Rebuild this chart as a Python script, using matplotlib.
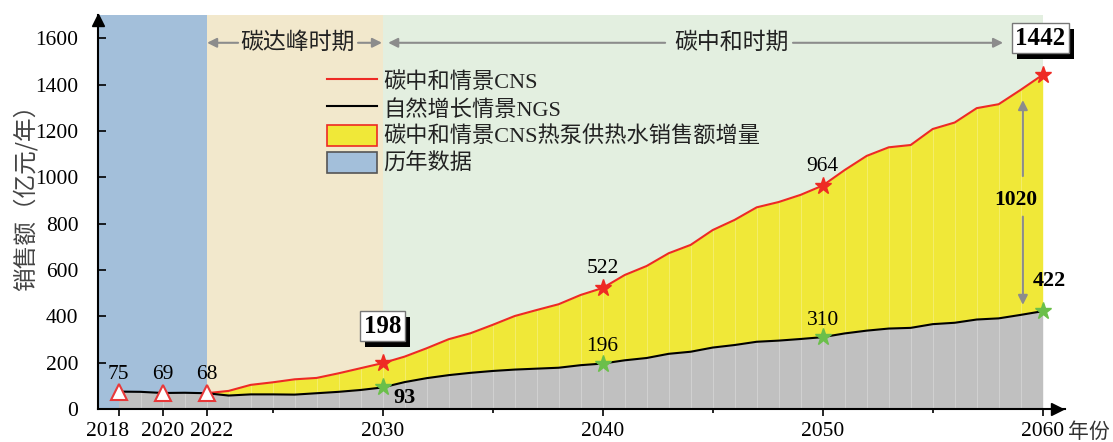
import numpy as np
import matplotlib
matplotlib.use("Agg")
import matplotlib.pyplot as plt
from matplotlib.lines import Line2D
from matplotlib.patches import Patch
from matplotlib.transforms import ScaledTranslation
from matplotlib import patheffects

plt.rcParams['font.family'] = ['Liberation Serif', 'Noto Sans CJK SC']
plt.rcParams['axes.unicode_minus'] = False

# historical data (2018-2022)
hist_years = [2018, 2019, 2020, 2021, 2022]
hist_vals = [75, 74, 69, 70, 68]

# forecast (2022-2060)
fc_years = list(range(2022, 2061))
cns = [68, 78, 104, 115, 128, 134, 154, 176, 198,
       226, 262, 301, 327, 363, 401, 427, 452, 492, 522,
       578, 617, 672, 708, 772, 816, 870, 893, 924, 964,
       1031, 1092, 1129, 1139, 1208, 1236, 1298, 1315, 1377, 1442]
ngs = [68, 58, 63, 63, 62, 68, 74, 82, 93,
       116, 133, 146, 156, 164, 170, 174, 178, 189, 196,
       210, 220, 238, 247, 265, 276, 290, 295, 302, 310,
       326, 338, 347, 350, 366, 372, 386, 391, 406, 422]

key_years = [2030, 2040, 2050, 2060]
hist_marks = [2018, 2020, 2022]

legend_labels = ['碳中和情景CNS', '自然增长情景NGS',
                 '碳中和情景CNS热泵供热水销售额增量', '历年数据']

# colours
c_blue = '#A3BFDA'
c_beige = '#F2E8CC'
c_green = '#E3EFE0'
c_yellow = '#F0E838'
c_gray = '#C0C0C0'
c_red = '#EE2A24'
c_star_green = '#6BBF4A'
c_arrow = '#8C8C8C'

fig = plt.figure(figsize=(11.13, 4.42), dpi=100)
ax = fig.add_axes([0.0878, 0.0747, 0.8688, 0.8914])
ax.set_xlim(2017.05, 2061.0)
ax.set_ylim(0, 1700)

# period backgrounds
ax.axvspan(2017.05, 2022, color=c_blue, zorder=0, lw=0)
ax.axvspan(2022, 2030, color=c_beige, zorder=0, lw=0)
ax.axvspan(2030, 2060, color=c_green, zorder=0, lw=0)

all_years = np.array(hist_years + fc_years[1:])
ngs_all = np.array(hist_vals + ngs[1:])
top_all = np.array(hist_vals + cns[1:])

ax.fill_between(all_years, 0, ngs_all, color=c_gray, lw=0, zorder=1)
ax.fill_between(fc_years, ngs, cns, color=c_yellow, lw=0, zorder=1)
ax.vlines(all_years[1:-1], 0, top_all[1:-1], colors='white', lw=0.6, alpha=0.3, zorder=1.5)

ax.plot(fc_years, cns, color=c_red, lw=1.5, zorder=3)
ax.plot(all_years, ngs_all, color='black', lw=1.5, zorder=3)

# markers
idx = [fc_years.index(y) for y in key_years]
ax.plot(key_years, [cns[i] for i in idx], '*', color=c_red, ms=12.5, mec=c_red, zorder=4)
ax.plot(key_years, [ngs[i] for i in idx], '*', color=c_star_green, ms=12.5, mec=c_star_green, zorder=4)
hv = [hist_vals[hist_years.index(y)] for y in hist_marks]
ax.plot(hist_marks, hv, '^', ms=12, mfc='white', mec='#E8393A', mew=1.5, zorder=4, clip_on=False)

# value labels
for y, v in zip(hist_marks, hv):
    ax.text(y, 150, str(v), ha='center', va='center', fontsize=15.5, zorder=5)
for y, v in [(2040, cns[idx[1]]), (2050, cns[idx[2]])]:
    ax.text(y, v + 82, str(v), ha='center', va='center', fontsize=15.5, zorder=5)
for y, v in [(2040, ngs[idx[1]]), (2050, ngs[idx[2]])]:
    ax.text(y, v + 72, str(v), ha='center', va='center', fontsize=15.5, zorder=5)
ax.text(2031.0, 47, str(ngs[idx[0]]), ha='center', va='center', fontsize=16, fontweight='bold', zorder=5)
ax.text(2060.3, 553, str(ngs[idx[3]]), ha='center', va='center', fontsize=16, fontweight='bold', zorder=5)


def shadow_box(x, y, s):
    t = ax.text(x, y, s, ha='center', va='center', fontsize=18, fontweight='bold', zorder=7,
                bbox=dict(boxstyle='square,pad=0.14', fc='white', ec='#777777', lw=1))
    t.get_bbox_patch().set_path_effects([
        patheffects.SimplePatchShadow(offset=(3.6, -4.3), shadow_rgbFace='black', alpha=1.0),
        patheffects.Normal()])


shadow_box(2029.99, 357, str(cns[idx[0]]))
shadow_box(2059.9, 1600, str(cns[idx[3]]))

# difference arrow 2060
diff = cns[idx[3]] - ngs[idx[3]]
arr = dict(arrowstyle='-|>', color=c_arrow, lw=1.5, mutation_scale=14, shrinkA=0, shrinkB=0)
ax.annotate('', xy=(2059.1, 1333), xytext=(2059.1, 1005), arrowprops=arr, zorder=5)
ax.annotate('', xy=(2059.1, 449), xytext=(2059.1, 830), arrowprops=arr, zorder=5)
ax.text(2058.8, 902, str(diff), ha='center', va='center', fontsize=15.5, fontweight='bold', zorder=5)

# period annotations
ax.text(2026.13, 1580, '碳达峰时期', ha='center', va='center', fontsize=16.5,
        family='Noto Sans CJK SC', color='#222222', zorder=5)
ax.text(2045.84, 1580, '碳中和时期', ha='center', va='center', fontsize=16.5,
        family='Noto Sans CJK SC', color='#222222', zorder=5)
for x0, x1 in [(2023.43, 2022.02), (2028.88, 2029.97), (2042.84, 2030.25), (2048.65, 2058.2)]:
    ax.annotate('', xy=(x1, 1580), xytext=(x0, 1580), arrowprops=arr, zorder=5)

# legend
handles = [Line2D([], [], color=c_red, lw=1.5),
           Line2D([], [], color='black', lw=1.5),
           Patch(fc=c_yellow, ec=c_red, lw=1.2),
           Patch(fc=c_blue, ec='#555555', lw=1.2)]
leg = ax.legend(handles, legend_labels, loc='upper left', bbox_to_anchor=(0.2371, 0.86),
                frameon=False, fontsize=16, handlelength=2.25, handleheight=1.08,
                labelspacing=0.19, handletextpad=0.3, borderpad=0, borderaxespad=0)
for t in leg.get_texts():
    t.set_color('#222222')

# axes styling
for s in ['top', 'right']:
    ax.spines[s].set_visible(False)
for s in ['left', 'bottom']:
    ax.spines[s].set_linewidth(1.5)
    ax.spines[s].set_zorder(8)

ax.set_yticks(range(0, 1601, 200))
ax.set_xticks([2018, 2020, 2022, 2030, 2040, 2050, 2060])
ax.set_xticks([2025, 2035, 2045, 2055], minor=True)
ax.tick_params(axis='x', which='major', direction='out', length=5, width=1.2, pad=4.5, labelsize=15.5)
ax.tick_params(axis='x', which='minor', direction='out', length=3, width=1.2)
ax.tick_params(axis='y', direction='in', length=6, width=1.2, pad=14, labelsize=15.5)
for t in ax.xaxis.get_major_ticks():
    if t.get_loc() in (2018, 2022):
        t.tick1line.set_visible(False)
for lab in ax.get_xticklabels():
    txt = lab.get_text()
    dx = {'2018': -11, '2022': 5}.get(txt, 0)
    if dx:
        lab.set_transform(lab.get_transform() + ScaledTranslation(dx / 100, 0, fig.dpi_scale_trans))

# axis arrows
ax.plot(0.992, 0, '>', color='black', ms=9, transform=ax.transAxes, clip_on=False, zorder=9)
ax.plot(0, 0.987, '^', color='black', ms=9, transform=ax.transAxes, clip_on=False, zorder=9)

ax.text(-0.0752, 0.55, '销售额（亿元/年）', rotation=90, ha='center', va='center',
        fontsize=17, family='Noto Sans CJK SC', color='#444444', transform=ax.transAxes)
ax.text(2062.1, -99, '年份', ha='center', va='center', fontsize=15,
        family='Noto Sans CJK SC', color='#333333', clip_on=False)

fig.savefig('out.png', dpi=100)
